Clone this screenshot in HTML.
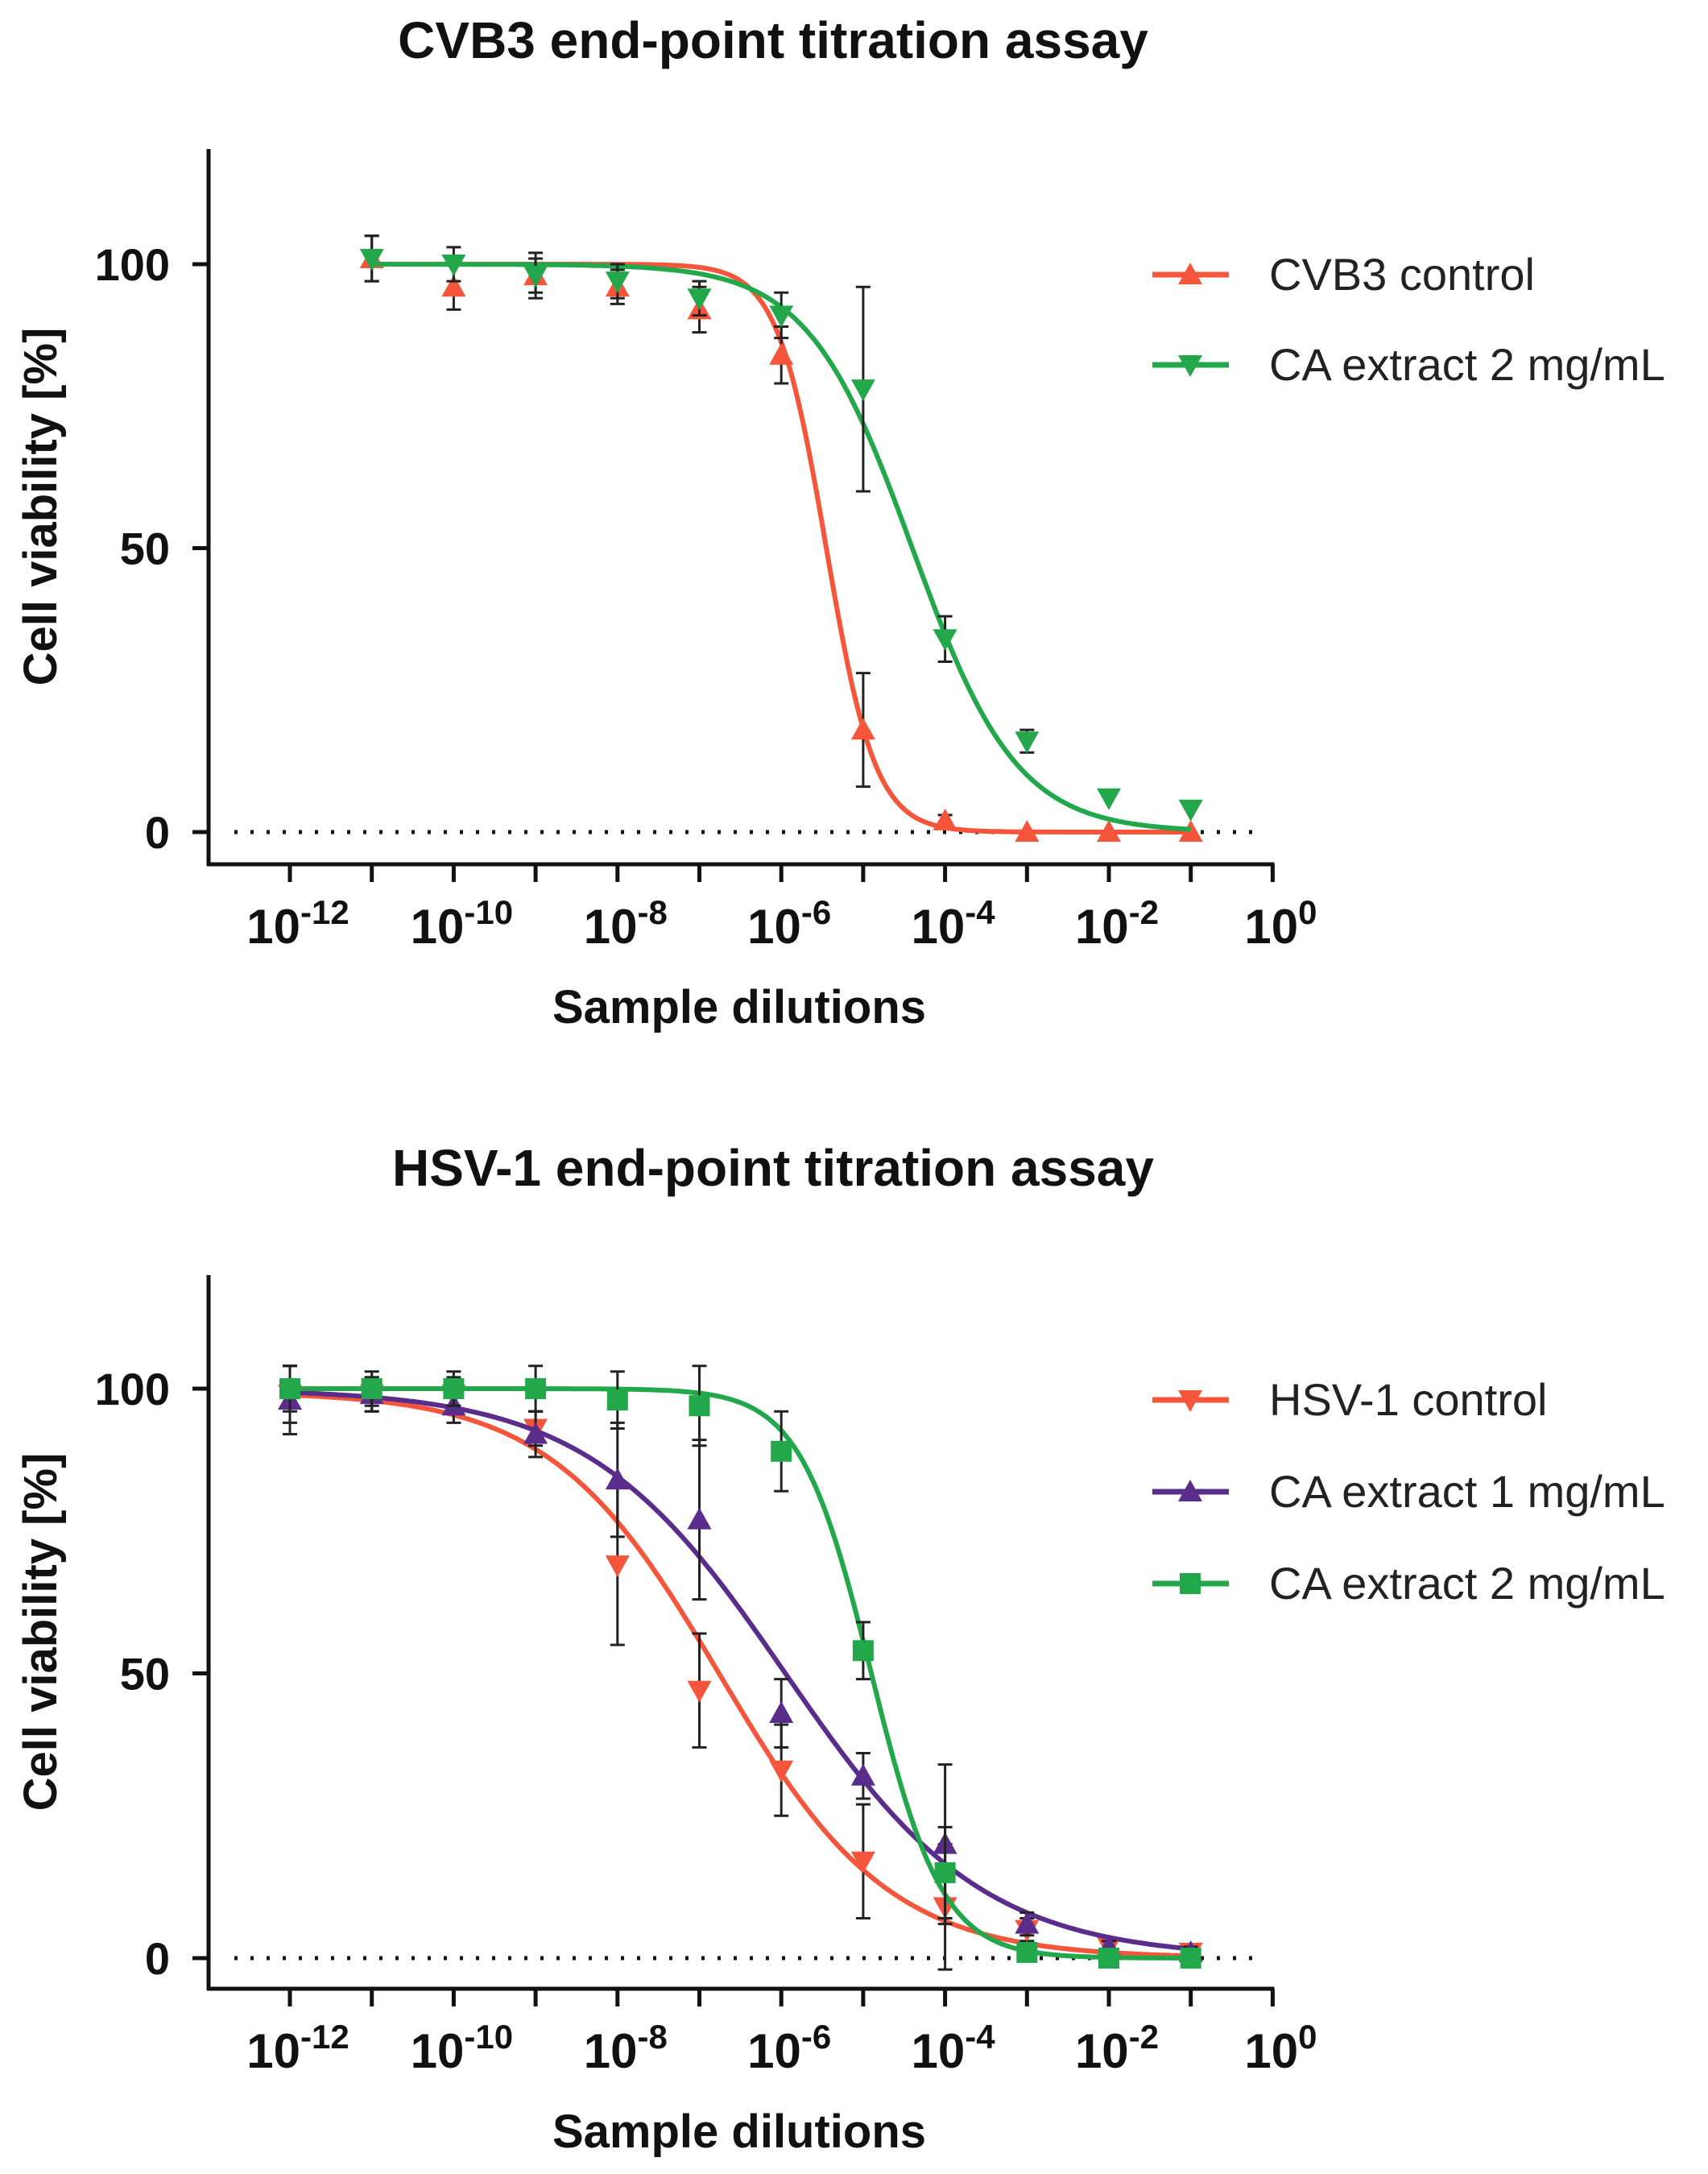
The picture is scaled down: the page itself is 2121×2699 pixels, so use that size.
<!DOCTYPE html>
<html><head><meta charset="utf-8"><style>
html,body{margin:0;padding:0;background:#fff;}
svg{display:block;font-family:"Liberation Sans",Arial,sans-serif;}
</style></head><body>
<svg id="fig" width="2121" height="2699" viewBox="0 0 2121 2699" xmlns="http://www.w3.org/2000/svg"></svg>
<script>
// ---- data ----
const xExp = [-12,-11,-10,-9,-8,-7,-6,-5,-4,-3,-2,-1];
const xTickExp = [-12,-10,-8,-6,-4,-2,0];
const yTicks = [0,50,100];
// Chart A (CVB3) - points start at 1e-11
const cvbX = [-11,-10,-9,-8,-7,-6,-5,-4,-3,-2,-1];
const cvbCtrlY = [101,96,98,96,92,84,18,2,0,0,0];
const cvbCtrlErr = [4,4,4,3,4,5,10,1,0,0,0];
const cvbCa2Y = [101,100,98,97,94,91,78,34,16,6,4];
const cvbCa2Err = [4,3,3,3,3,4,18,4,2,0,0];
const cvbCtrlFit = [100,0,-5.45,1.45]; // top, bottom, logEC50, hill
const cvbCa2Fit = [100,0,-4.4,0.68];
// Chart B (HSV-1)
const hsvCtrlY = [99,99,99,93,69,47,33,17,9,5,2,1];
const hsvCtrlErr = [5,3,3,3,14,10,8,10,11,2,1,1];
const hsvCa1Y = [98,99,97,92,84,77,43,32,20,6,2,1];
const hsvCa1Err = [6,3,3,4,10,14,6,4,14,2,1,1];
const hsvCa2Y = [100,100,100,100,98,97,89,54,15,1,0,0];
const hsvCa2Err = [4,3,3,4,5,7,7,5,8,1,1,1];
const hsvCtrlFit = [99.5,0,-6.75,0.42];
const hsvCa1Fit = [100,0,-5.95,0.36];
const hsvCa2Fit = [100,0,-4.9,1.0];

const RED="#f4553b", GREEN="#22a84a", PURPLE="#5a2d8c";
const NS="http://www.w3.org/2000/svg";
const svg=document.getElementById('fig');
function el(tag,attrs,parent,text){const e=document.createElementNS(NS,tag);for(const k in attrs)e.setAttribute(k,attrs[k]);if(text!==undefined)e.textContent=text;(parent||svg).appendChild(e);return e;}

function makeChart(cfg){
  const g=el('g',{});
  
  
  const X0=259, xPer=101.7;
  const sx=v=>360+(v+12)*xPer;
  const sy=v=>cfg.y0-(v/100)*(cfg.y0-cfg.y100);
  const t=el('text',{x:960,y:cfg.titleY,'font-size':64,'font-weight':'bold','text-anchor':'middle',fill:'#111'},g,cfg.title);
  
  
  const ya=el('line',{x1:X0,y1:cfg.top,x2:X0,y2:cfg.bottom+2,stroke:'#111','stroke-width':5},g);
  
  
  const xa=el('line',{x1:X0-2,y1:cfg.bottom,x2:sx(0)+2,y2:cfg.bottom,stroke:'#111','stroke-width':5},g);
  
  
  for(let e=-12;e<=0;e++){
    const tk=el('line',{x1:sx(e),y1:cfg.bottom,x2:sx(e),y2:cfg.bottom+22,stroke:'#111','stroke-width':5},g);
    
    
  }
  xTickExp.forEach(e=>{
    const tx=el('text',{x:sx(e)+10,y:cfg.bottom+98,'font-size':60,'font-weight':'bold','text-anchor':'middle',fill:'#111'},g);
    
    
    el('tspan',{},tx,'10');
    el('tspan',{'font-size':42,dy:-24},tx,String(e));
  });
  yTicks.forEach(v=>{
    const tk=el('line',{x1:X0-20,y1:sy(v),x2:X0,y2:sy(v),stroke:'#111','stroke-width':5},g);
    
    
    const tl=el('text',{x:X0-48,y:sy(v)+20,'font-size':56,'font-weight':'bold','text-anchor':'end',fill:'#111'},g,String(v));
    
    
  });
  const xt=el('text',{x:918,y:cfg.bottom+197,'font-size':58,'font-weight':'bold','text-anchor':'middle',fill:'#111'},g,'Sample dilutions');
  
  
  const ymid=(cfg.top+cfg.bottom)/2;
  const yt=el('text',{x:0,y:0,transform:`translate(70,${ymid}) rotate(-90)`,'font-size':58,'font-weight':'bold','text-anchor':'middle',fill:'#111'},g,'Cell viability [%]');
  
  
  const zl=el('line',{x1:X0+32,y1:sy(0),x2:sx(0)-20,y2:sy(0),stroke:'#111','stroke-width':5,'stroke-dasharray':'4 16'},g);
  
  
  cfg.series.forEach((s,si)=>{
    const sg=el('g',{},g);
    
    
    let d='';
    const [top,bot,c,h]=s.fit;
    const xmin=s.xs[0], xmax=s.xs[s.xs.length-1];
    for(let i=0;i<=300;i++){const x=xmin+(xmax-xmin)*i/300;const y=bot+(top-bot)/(1+Math.pow(10,h*(x-c)));d+=(i?'L':'M')+sx(x).toFixed(1)+','+sy(y).toFixed(1);}
    const cp=el('path',{d:d,fill:'none',stroke:s.color,'stroke-width':6},sg);
    
    
    s.xs.forEach((xv,i)=>{
      const cx=sx(xv), cy=sy(s.ys[i]), er=s.err[i];
      if(er>0){
        const eb=el('path',{d:`M${cx},${sy(s.ys[i]+er)}L${cx},${sy(s.ys[i]-er)}M${cx-9},${sy(s.ys[i]+er)}L${cx+9},${sy(s.ys[i]+er)}M${cx-9},${sy(s.ys[i]-er)}L${cx+9},${sy(s.ys[i]-er)}`,stroke:'#222','stroke-width':3,fill:'none'},sg);
        
        
      }
      const m=marker(s.shape,cx,cy,s.color,sg);
      
      
    });
    const ly=cfg.legendY[si];
    const lg=el('g',{},g);
    
    
    el('line',{x1:1431,y1:ly,x2:1526,y2:ly,stroke:s.color,'stroke-width':7},lg);
    marker(s.shape,1478,ly,s.color,lg);
    el('text',{x:1576,y:ly+19,'font-size':56,fill:'#222'},lg,s.label);
  });
}
function marker(shape,cx,cy,color,parent){
  const r=15;
  if(shape==='up') return el('polygon',{points:`${cx},${cy-r} ${cx-r},${cy+r*0.8} ${cx+r},${cy+r*0.8}`,fill:color},parent);
  if(shape==='down') return el('polygon',{points:`${cx},${cy+r} ${cx-r},${cy-r*0.8} ${cx+r},${cy-r*0.8}`,fill:color},parent);
  return el('rect',{x:cx-13,y:cy-13,width:26,height:26,fill:color},parent);
}
makeChart({name:'cvb3-chart',title:'CVB3 end-point titration assay',titleY:72,top:185,bottom:1073,y100:328,y0:1033,legendY:[341,453],
  series:[
    {key:'cvb3-control',label:'CVB3 control',color:RED,shape:'up',xs:cvbX,ys:cvbCtrlY,err:cvbCtrlErr,fit:cvbCtrlFit},
    {key:'cvb3-ca-extract-2',label:'CA extract 2 mg/mL',color:GREEN,shape:'down',xs:cvbX,ys:cvbCa2Y,err:cvbCa2Err,fit:cvbCa2Fit}
  ]});
makeChart({name:'hsv1-chart',title:'HSV-1 end-point titration assay',titleY:1472,top:1583,bottom:2469,y100:1724,y0:2431,legendY:[1738,1852,1966],
  series:[
    {key:'hsv1-control',label:'HSV-1 control',color:RED,shape:'down',xs:xExp,ys:hsvCtrlY,err:hsvCtrlErr,fit:hsvCtrlFit},
    {key:'hsv1-ca-extract-1',label:'CA extract 1 mg/mL',color:PURPLE,shape:'up',xs:xExp,ys:hsvCa1Y,err:hsvCa1Err,fit:hsvCa1Fit},
    {key:'hsv1-ca-extract-2',label:'CA extract 2 mg/mL',color:GREEN,shape:'square',xs:xExp,ys:hsvCa2Y,err:hsvCa2Err,fit:hsvCa2Fit}
  ]});
</script>
</body></html>
